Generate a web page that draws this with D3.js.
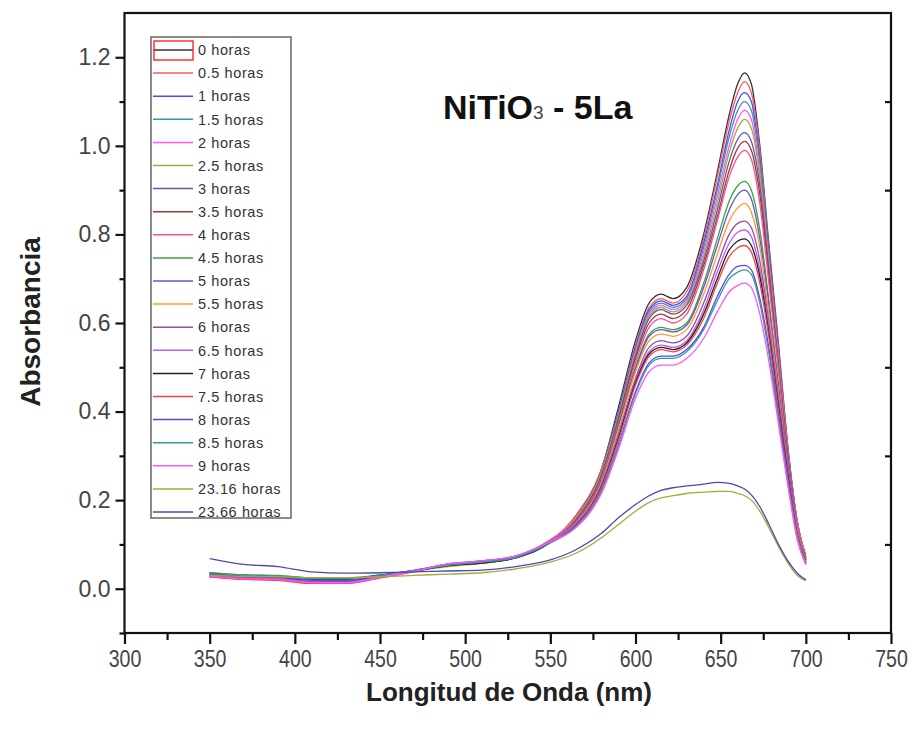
<!DOCTYPE html>
<html>
<head>
<meta charset="utf-8">
<script src="https://cdn.jsdelivr.net/npm/d3@7"></script>
<style>
  body { margin: 0; background: #fff; }
  svg text { font-family: "Liberation Sans", Arial, sans-serif; }
</style>
</head>
<body>
<svg id="Vis" width="914" height="730"></svg>
<script>
/*
* DATA
*/

const wavelength = [350,370,390,410,430,450,470,490,510,530,550,565,580,590,600,608,615,622,630,640,648,655,660,664,668,673,678,684,690,695,700];

const seriesNames = ["0 horas","0.5 horas","1 horas","1.5 horas","2 horas","2.5 horas","3 horas","3.5 horas","4 horas","4.5 horas","5 horas","5.5 horas","6 horas","6.5 horas","7 horas","7.5 horas","8 horas","8.5 horas","9 horas","23.16 horas","23.66 horas"];

const seriesColors = ["#333333","#ff5a5a","#4a4aff","#3a9a9a","#ff55ff","#a8a83a","#5a5aaa","#a03a3a","#ff4d8f","#3fa03f","#5a5ad0","#ff9a2a","#9a4aaa","#b060ff","#222222","#ff4040","#4a4aff","#3a9a9a","#ff55ff","#a8a83a","#4a4ab0"];

const h0   = [0.035,0.030,0.028,0.022,0.022,0.030,0.040,0.052,0.058,0.070,0.105,0.165,0.27,0.41,0.56,0.645,0.665,0.655,0.68,0.80,0.94,1.07,1.14,1.165,1.14,1.00,0.79,0.55,0.30,0.15,0.075];
const h05  = [0.028,0.022,0.020,0.014,0.013,0.026,0.040,0.055,0.060,0.072,0.108,0.165,0.27,0.40,0.55,0.635,0.655,0.645,0.67,0.79,0.93,1.055,1.12,1.145,1.12,0.99,0.78,0.54,0.30,0.15,0.07];
const h1   = [0.030,0.025,0.022,0.018,0.016,0.028,0.040,0.054,0.060,0.072,0.108,0.16,0.265,0.40,0.545,0.63,0.65,0.64,0.66,0.78,0.91,1.035,1.10,1.12,1.10,0.97,0.77,0.53,0.29,0.15,0.07];
const h15  = [0.032,0.028,0.026,0.020,0.020,0.030,0.042,0.055,0.062,0.073,0.110,0.16,0.265,0.395,0.54,0.625,0.645,0.635,0.655,0.77,0.90,1.02,1.08,1.10,1.08,0.96,0.76,0.52,0.29,0.15,0.07];
const h2   = [0.026,0.022,0.020,0.013,0.012,0.024,0.038,0.056,0.062,0.074,0.110,0.16,0.26,0.39,0.535,0.62,0.64,0.63,0.65,0.76,0.885,1.00,1.06,1.08,1.06,0.94,0.75,0.52,0.29,0.15,0.07];
const h25  = [0.034,0.030,0.028,0.022,0.022,0.030,0.040,0.050,0.058,0.070,0.106,0.158,0.26,0.39,0.53,0.615,0.635,0.625,0.645,0.75,0.87,0.985,1.04,1.06,1.04,0.93,0.74,0.51,0.28,0.14,0.07];
const h3   = [0.036,0.031,0.029,0.024,0.023,0.031,0.041,0.052,0.059,0.071,0.106,0.155,0.255,0.385,0.525,0.61,0.63,0.62,0.64,0.74,0.855,0.965,1.015,1.03,1.01,0.91,0.73,0.50,0.28,0.14,0.065];
const h35  = [0.030,0.024,0.022,0.015,0.015,0.026,0.039,0.054,0.061,0.073,0.108,0.155,0.255,0.38,0.52,0.60,0.62,0.61,0.63,0.73,0.84,0.945,0.995,1.01,0.99,0.89,0.72,0.50,0.28,0.14,0.065];
const h4   = [0.027,0.022,0.020,0.012,0.012,0.025,0.039,0.056,0.063,0.074,0.110,0.152,0.25,0.375,0.51,0.59,0.61,0.60,0.62,0.72,0.83,0.93,0.975,0.99,0.97,0.87,0.70,0.49,0.27,0.14,0.065];
const h45  = [0.035,0.031,0.030,0.024,0.024,0.031,0.041,0.053,0.060,0.071,0.105,0.15,0.245,0.37,0.50,0.575,0.59,0.585,0.60,0.69,0.79,0.875,0.91,0.92,0.90,0.81,0.66,0.46,0.26,0.13,0.065];
const h5   = [0.033,0.028,0.026,0.020,0.019,0.029,0.041,0.054,0.061,0.072,0.106,0.15,0.245,0.365,0.495,0.57,0.585,0.58,0.595,0.68,0.775,0.855,0.89,0.90,0.88,0.79,0.65,0.45,0.26,0.13,0.06];
const h55  = [0.031,0.026,0.024,0.018,0.018,0.028,0.040,0.053,0.060,0.072,0.105,0.148,0.24,0.36,0.49,0.56,0.575,0.57,0.585,0.665,0.755,0.83,0.86,0.87,0.85,0.77,0.63,0.44,0.25,0.13,0.06];
const h6   = [0.029,0.024,0.022,0.016,0.015,0.027,0.040,0.055,0.062,0.073,0.106,0.146,0.235,0.35,0.475,0.545,0.56,0.555,0.57,0.645,0.73,0.80,0.825,0.83,0.815,0.74,0.61,0.43,0.25,0.125,0.06];
const h65  = [0.028,0.023,0.021,0.014,0.014,0.026,0.040,0.056,0.063,0.074,0.107,0.145,0.232,0.345,0.47,0.535,0.55,0.545,0.56,0.63,0.715,0.78,0.805,0.81,0.795,0.72,0.60,0.42,0.24,0.12,0.06];
const h7   = [0.034,0.029,0.027,0.021,0.021,0.030,0.040,0.052,0.058,0.070,0.104,0.143,0.23,0.34,0.465,0.53,0.545,0.54,0.555,0.62,0.70,0.765,0.785,0.79,0.775,0.705,0.585,0.41,0.24,0.12,0.06];
const h75  = [0.027,0.021,0.019,0.012,0.012,0.025,0.039,0.055,0.062,0.073,0.106,0.142,0.228,0.335,0.46,0.525,0.54,0.535,0.55,0.61,0.69,0.75,0.77,0.775,0.76,0.69,0.575,0.40,0.235,0.12,0.06];
const h8   = [0.032,0.027,0.025,0.019,0.018,0.029,0.041,0.054,0.061,0.072,0.104,0.14,0.222,0.325,0.445,0.51,0.525,0.525,0.54,0.59,0.66,0.71,0.728,0.73,0.72,0.655,0.55,0.385,0.23,0.115,0.055];
const h85  = [0.034,0.030,0.028,0.022,0.022,0.030,0.041,0.053,0.060,0.071,0.104,0.14,0.22,0.322,0.44,0.505,0.52,0.52,0.535,0.585,0.65,0.70,0.715,0.72,0.71,0.645,0.54,0.38,0.225,0.115,0.055];
const h9   = [0.028,0.023,0.021,0.014,0.013,0.026,0.040,0.056,0.063,0.074,0.106,0.138,0.215,0.315,0.43,0.49,0.505,0.505,0.52,0.565,0.625,0.67,0.685,0.69,0.68,0.62,0.52,0.37,0.22,0.11,0.055];
const h2316 = [0.030,0.028,0.027,0.025,0.025,0.027,0.030,0.033,0.036,0.045,0.060,0.080,0.115,0.145,0.175,0.195,0.205,0.21,0.215,0.218,0.22,0.22,0.215,0.21,0.20,0.175,0.14,0.095,0.055,0.030,0.018];
const h2366 = [0.068,0.055,0.050,0.038,0.035,0.036,0.038,0.040,0.042,0.050,0.065,0.088,0.125,0.16,0.19,0.21,0.222,0.228,0.232,0.236,0.24,0.238,0.232,0.225,0.212,0.185,0.148,0.10,0.060,0.035,0.020];

const seriesValues = [h0,h05,h1,h15,h2,h25,h3,h35,h4,h45,h5,h55,h6,h65,h7,h75,h8,h85,h9,h2316,h2366];

const xTicks = [300,350,400,450,500,550,600,650,700,750];
const yTicks = [0.0,0.2,0.4,0.6,0.8,1.0,1.2];


/*
* SETUP
*/

const svg = d3.select("svg#Vis");

const frame = { left: 124.5, right: 891, top: 13, bottom: 633 };

const x = d3.scaleLinear().domain([300, 750]).range([frame.left, frame.right]);
const y = d3.scaleLinear().domain([-0.1, 1.3]).range([frame.bottom, frame.top]);

const g = {
  lines: svg.append("g").attr("id", "lines"),
  axes: svg.append("g").attr("id", "axes"),
  legend: svg.append("g").attr("id", "legend"),
  labels: svg.append("g").attr("id", "labels")
};


/*
* CURVES
*/

const line = d3.line()
  .x(d => x(d[0]))
  .y(d => y(d[1]))
  .curve(d3.curveMonotoneX);

g.lines.selectAll("path.curve")
  .data(seriesValues)
  .join("path")
    .attr("class", "curve")
    .attr("fill", "none")
    .attr("stroke", (d, i) => seriesColors[i])
    .attr("stroke-width", 1.3)
    .attr("d", d => line(wavelength.map((w, j) => [w, d[j]])));


/*
* AXES
*/

/* bottom axis with minor ticks */
const xAxis = d3.axisBottom(x).tickValues(xTicks).tickSize(11).tickSizeOuter(0).tickFormat(d3.format("d"));
const xMinor = d3.axisBottom(x).tickValues(xTicks.slice(0, -1).map(v => v + 25)).tickSize(7).tickSizeOuter(0).tickFormat("");

g.axes.append("g").attr("transform", translate(0, frame.bottom)).call(xMinor);
g.axes.append("g").attr("class", "xaxis").attr("transform", translate(0, frame.bottom)).call(xAxis);

/* left axis with minor ticks */
const yAxis = d3.axisLeft(y).tickValues(yTicks).tickSize(9).tickSizeOuter(0).tickFormat(d3.format(".1f"));
const yMinor = d3.axisLeft(y).tickValues([-0.1,0.1,0.3,0.5,0.7,0.9,1.1]).tickSize(5).tickSizeOuter(0).tickFormat("");

g.axes.append("g").attr("transform", translate(frame.left, 0)).call(yMinor);
g.axes.append("g").attr("class", "yaxis").attr("transform", translate(frame.left, 0)).call(yAxis);

/* right side ticks, inward */
const yRight = d3.axisLeft(y).tickValues([1.1,0.9,0.7,0.5,0.3,0.1]).tickSize(6).tickSizeOuter(0).tickFormat("");
g.axes.append("g").attr("transform", translate(frame.right, 0)).call(yRight);

g.axes.selectAll(".domain").remove();
g.axes.selectAll(".tick line").attr("stroke", "#111").attr("stroke-width", 2.2);

g.axes.selectAll(".xaxis .tick text")
  .attr("y", 18)
  .attr("transform", "scale(0.85,1)")
  .attr("fill", "#444")
  .style("font-size", "23px");

g.axes.selectAll(".yaxis .tick text")
  .attr("x", -14)
  .attr("fill", "#444")
  .style("font-size", "23px");

/* plot frame */
g.axes.append("rect")
  .attr("x", frame.left)
  .attr("y", frame.top)
  .attr("width", frame.right - frame.left)
  .attr("height", frame.bottom - frame.top)
  .attr("fill", "none")
  .attr("stroke", "#111")
  .attr("stroke-width", 2.2);


/*
* LEGEND
*/

const legendBox = { x: 151, y: 37, w: 140, h: 481, step: 23.1 };

g.legend.append("rect")
  .attr("x", legendBox.x)
  .attr("y", legendBox.y)
  .attr("width", legendBox.w)
  .attr("height", legendBox.h)
  .attr("fill", "#fff")
  .attr("stroke", "#666")
  .attr("stroke-width", 1.5);

const entries = g.legend.selectAll("g.entry")
  .data(seriesNames)
  .join("g")
    .attr("class", "entry")
    .attr("transform", (d, i) => translate(legendBox.x, legendBox.y + 13 + i * legendBox.step));

entries.append("line")
  .attr("x1", 2)
  .attr("x2", 42)
  .attr("stroke", (d, i) => seriesColors[i])
  .attr("stroke-width", 1.5);

entries.append("text")
  .attr("x", 47)
  .attr("dy", "0.36em")
  .attr("fill", "#333")
  .style("font-size", "14.5px")
  .style("letter-spacing", "0.6px")
  .text(d => d);

/* selection box around first sample */
g.legend.append("rect")
  .attr("x", legendBox.x + 3)
  .attr("y", legendBox.y + 4)
  .attr("width", 39)
  .attr("height", 19)
  .attr("fill", "none")
  .attr("stroke", "#ff3030")
  .attr("stroke-width", 1.5);


/*
* TITLES
*/

const title = g.labels.append("text")
  .attr("x", 443)
  .attr("y", 119)
  .attr("fill", "#111")
  .style("font-size", "34px")
  .style("font-weight", "bold");
title.append("tspan").text("NiTiO");
title.append("tspan").style("font-size", "19px").style("font-weight", "normal").attr("fill", "#444").text("3");
title.append("tspan").text(" - 5La");

g.labels.append("text")
  .attr("x", 509)
  .attr("y", 701)
  .attr("text-anchor", "middle")
  .attr("fill", "#222")
  .style("font-size", "26px")
  .style("font-weight", "bold")
  .text("Longitud de Onda (nm)");

g.labels.append("text")
  .attr("transform", translate(40, 322) + " rotate(-90)")
  .attr("text-anchor", "middle")
  .attr("fill", "#222")
  .style("font-size", "28px")
  .style("font-weight", "bold")
  .text("Absorbancia");


/*
* HELPER FUNCTIONS
*/

function translate(x, y) {
  return 'translate(' + String(x) + ',' + String(y) + ')';
}
</script>
</body>
</html>
